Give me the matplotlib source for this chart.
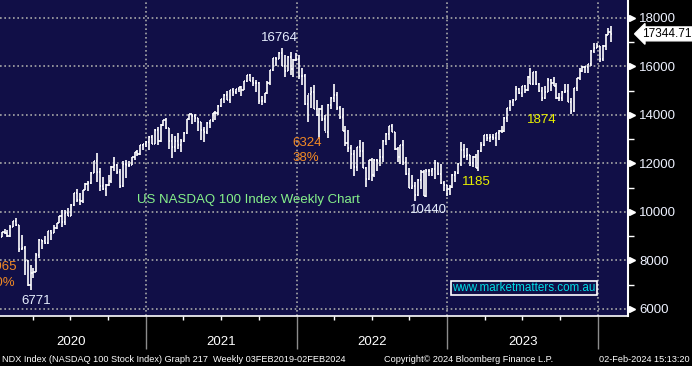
import numpy as np
import pandas as pd
import matplotlib
matplotlib.use('Agg')
import matplotlib.pyplot as plt
import matplotlib.dates as mdates
import matplotlib.transforms as mtransforms

# weekly NDX bars (week ending Fridays)
first_open = 8793

close_2020 = [8975, 9174, 9114, 8992, 9401, 9623, 9446, 8462, 8531, 7995, 7006, 7494, 7528, 8230, 8833, 8795,
              8718, 9213, 9152, 9325, 9555, 9824, 9588, 9946, 9850, 10280, 10768, 10503, 10461, 10905, 11139,
              11183, 11625, 12111, 11629, 11088, 10939, 11117, 11268, 11864, 11937, 11667, 11052, 11981, 11937,
              11938, 12258, 12465, 12375, 12756, 12804, 12888]
high_2020 = [9000, 9180, 9300, 9260, 9460, 9630, 9736, 9460, 9060, 8600, 8000, 7830, 7680, 8290, 8870, 8860,
             9030, 9220, 9260, 9460, 9560, 9850, 10090, 10070, 10150, 10320, 10770, 10960, 10800, 10910, 11210,
             11260, 11660, 12120, 12439, 11800, 11440, 11160, 11530, 11880, 12250, 11970, 11760, 12100, 12150,
             12090, 12270, 12470, 12560, 12780, 12820, 12940]
low_2020 = [8780, 8960, 9080, 8950, 8980, 9380, 9430, 8360, 8440, 7400, 6950, 6771, 7290, 7520, 8100, 8480,
            8680, 8680, 8850, 9150, 9290, 9530, 9380, 9480, 9830, 9840, 10250, 10430, 10300, 10380, 10900,
            10870, 11150, 11600, 11250, 10875, 10920, 10680, 11080, 11200, 11680, 11550, 10980, 11050, 11420,
            11850, 11920, 12150, 12290, 12350, 12550, 12700]

close_2021 = [13105, 12803, 13367, 12925, 13606, 13803, 13450, 12910, 12668, 12920, 12782, 12935, 13275, 13845,
              14041, 13951, 13860, 13720, 13380, 13298, 13687, 13774, 14069, 14090, 14360, 14640, 14843, 14637,
              15040, 14960, 15073, 15158, 15038, 15388, 15652, 15396, 15320, 15317, 14566, 14579, 14897, 15338,
              15850, 16345, 16309, 16573, 16025, 15812, 16410, 15900, 16287, 16320]
high_2021 = [13140, 13160, 13440, 13500, 13620, 13810, 13880, 13470, 13220, 13150, 13260, 13010, 13300, 13850,
             14060, 14060, 14060, 13870, 13720, 13500, 13710, 13780, 14080, 14180, 14400, 14650, 14850, 15000,
             15050, 15100, 15090, 15170, 15180, 15400, 15660, 15700, 15560, 15450, 15340, 14780, 14900, 15400,
             15860, 16350, 16410, 16600, 16764, 16470, 16420, 16600, 16310, 16560]
low_2021 = [12550, 12800, 12790, 12780, 12900, 13560, 13420, 12600, 12210, 12470, 12600, 12490, 12900, 13220,
            13780, 13620, 13700, 13320, 12980, 12900, 13230, 13480, 13700, 13800, 14010, 14350, 14500, 14630,
            14500, 14800, 14880, 14950, 14770, 15020, 15370, 15390, 15200, 14940, 14450, 14400, 14500, 14880,
            15220, 15800, 16000, 16290, 16020, 15570, 15810, 15660, 15560, 16210]

close_2022 = [15594, 15611, 14438, 14880, 14934, 14253, 14001, 14254, 13838, 13302, 14421, 14710, 14838, 14283,
              13897, 13357, 12855, 12645, 12387, 11835, 12681, 12526, 11830, 11342, 12141, 11544, 12125, 12091,
              12266, 12947, 13207, 13530, 13292, 12600, 12272, 12750, 12044, 11552, 10972, 11074, 10690, 11314,
              11668, 10677, 11700, 11680, 11758, 12030, 11550, 11187, 11100, 10940]
high_2022 = [16470, 15950, 15670, 14810, 15140, 15250, 14600, 14280, 14420, 14010, 14450, 14760, 15260, 14950,
             14380, 14290, 13550, 13400, 12770, 12560, 12690, 12950, 12880, 11840, 12160, 12230, 12180, 12190,
             12580, 12970, 13240, 13550, 13620, 13300, 12700, 12760, 12950, 12250, 11810, 11540, 11250, 11340,
             11720, 11720, 11760, 11760, 11820, 12130, 12040, 11970, 11280, 11110]
low_2022 = [15500, 15250, 14430, 13725, 14270, 14230, 13950, 13020, 13740, 13320, 13050, 14250, 14520, 14190,
            13850, 13340, 12720, 12460, 11770, 11490, 11670, 12250, 11820, 11035, 11300, 11280, 11450, 11700,
            11900, 12050, 12750, 12950, 13280, 12560, 12060, 11980, 11950, 11530, 10970, 10960, 10440, 10640,
            10960, 10670, 10610, 11500, 11480, 11340, 11540, 11160, 10870, 10670]

close_2023 = [11040, 11541, 11619, 11960, 12573, 12304, 12359, 12012, 12269, 11830, 12520, 12767, 13181, 13062,
              13079, 13037, 13246, 13340, 13340, 13873, 14298, 14547, 14620, 15084, 14891, 15179, 15040, 15565,
              15275, 15757, 15275, 14975, 14695, 14942, 15449, 15305, 15203, 14702, 14715, 14942, 14995, 14542,
              14180, 15099, 15529, 15804, 15983, 15997, 16085, 16623, 16777, 16826]
high_2023 = [11120, 11560, 11680, 12000, 12880, 12800, 12640, 12370, 12290, 12380, 12540, 12900, 13190, 13200,
             13210, 13200, 13250, 13400, 13540, 13900, 14300, 14620, 14680, 15180, 15100, 15190, 15250, 15600,
             15932, 15790, 15830, 15330, 15140, 15200, 15530, 15480, 15570, 15310, 14900, 15000, 15280, 15270,
             14700, 15130, 15540, 15930, 16000, 16040, 16110, 16700, 16970, 16970]
low_2023 = [10700, 10970, 11230, 11550, 11900, 12240, 12150, 11900, 11860, 11830, 11695, 12480, 12730, 12910,
            12900, 12960, 12720, 12960, 13250, 13290, 13720, 14150, 14380, 14600, 14860, 14730, 14890, 15000,
            15270, 15250, 15220, 14960, 14560, 14680, 14930, 15000, 15190, 14680, 14570, 14590, 14900, 14540,
            14058, 14110, 14970, 15460, 15780, 15720, 15740, 16000, 16560, 16760]

close_2024 = [16305, 16832, 17314, 17421, 17344.71]
high_2024 = [16830, 16900, 17330, 17600, 17680]
low_2024 = [16170, 16220, 16690, 17310, 17030]

close = np.array(close_2020 + close_2021 + close_2022 + close_2023 + close_2024)
high = np.array(high_2020 + high_2021 + high_2022 + high_2023 + high_2024)
low = np.array(low_2020 + low_2021 + low_2022 + low_2023 + low_2024)
opens = np.r_[first_open, close[:-1]]
dates = pd.date_range('2020-01-10', periods=len(close), freq='W-FRI')
x = mdates.date2num(dates)

year_labels = ['2020', '2021', '2022', '2023']
price_ticks = [6000, 8000, 10000, 12000, 14000, 16000, 18000]

navy = '#110f47'
fig = plt.figure(figsize=(6.92, 3.66), dpi=100, facecolor='black')
ax = fig.add_axes([0, 50/366, 628/692, 316/366])
ax.set_facecolor(navy)

x0 = mdates.date2num(pd.Timestamp('2020-01-13'))
ax.set_xlim(x0, x0 + 628 * 2.4226)
ax.set_ylim(5711, 18742)

# OHLC bars
ax.vlines(x, low, high, color='white', lw=1.2, zorder=3)
ax.hlines(opens, x - 2.6, x, color='white', lw=1.2, zorder=3)
ax.hlines(close, x, x + 2.6, color='white', lw=1.2, zorder=3)

# axes / grid
ax.xaxis.set_major_locator(mdates.YearLocator())
ax.xaxis.set_minor_locator(mdates.MonthLocator(bymonth=[4, 7, 10]))
ax.tick_params(axis='x', which='major', length=24, color='#8c8c8c', width=1, labelbottom=False)
ax.tick_params(axis='x', which='minor', length=3, color='white', width=1)
ax.yaxis.tick_right()
ax.set_yticks(price_ticks)
ax.set_yticks([7000, 9000, 11000, 13000, 15000, 17000], minor=True)
ax.tick_params(axis='y', which='major', length=0, pad=8, labelcolor='#eef2ff', labelsize=9.5)
ax.tick_params(axis='y', which='minor', length=4, color='white', width=1)
for lab in ax.get_yticklabels():
    lab.set_family('Liberation Sans')
ax.grid(True, which='major', color='#a8a8a8', ls=(0, (1, 1.6)), lw=1.2)
ax.set_axisbelow(True)
for s in ['top', 'left']:
    ax.spines[s].set_visible(False)
ax.spines['right'].set_color('white')
ax.spines['right'].set_linewidth(1.5)
ax.spines['bottom'].set_color('white')
ax.spines['bottom'].set_linewidth(1.2)

trans = mtransforms.blended_transform_factory(ax.transAxes, ax.transData)
ax.plot([1.006] * len(price_ticks), price_ticks, ls='none', marker='>', ms=5, color='white',
        transform=trans, clip_on=False, zorder=5)

# year labels under the axis
ytr = mtransforms.blended_transform_factory(ax.transData, ax.transAxes)
for yl in year_labels:
    ax.text(mdates.date2num(pd.Timestamp(yl + '-07-02')), -0.082, yl, transform=ytr, ha='center',
            va='center', color='white', fontsize=9.5, family='Liberation Sans')

# annotations
f = 'Liberation Sans'
white_txt = '#e8f0ff'
orange = '#f28a24'
yellow = '#e8f000'
ax.text(0.4443, 0.8797, '16764', transform=ax.transAxes, ha='center', va='center', color=white_txt, fontsize=9.5, family=f)
ax.text(0.465, 0.5475, '6324', transform=ax.transAxes, ha='left', va='center', color=orange, fontsize=9.5, family=f)
ax.text(0.465, 0.50, '38%', transform=ax.transAxes, ha='left', va='center', color=orange, fontsize=9.5, family=f)
ax.text(0.0581, 0.0475, '6771', transform=ax.transAxes, ha='center', va='center', color=white_txt, fontsize=9.5, family=f)
ax.text(0.0271, 0.155, '2965', transform=ax.transAxes, ha='right', va='center', color=orange, fontsize=9.5, family=f)
ax.text(0.0239, 0.1044, '30%', transform=ax.transAxes, ha='right', va='center', color=orange, fontsize=9.5, family=f)
ax.text(0.6815, 0.3354, '10440', transform=ax.transAxes, ha='center', va='center', color=white_txt, fontsize=9.5, family=f)
ax.text(0.758, 0.4241, '1185', transform=ax.transAxes, ha='center', va='center', color=yellow, fontsize=9.5, family=f)
ax.text(0.8631, 0.6203, '1874', transform=ax.transAxes, ha='center', va='center', color=yellow, fontsize=9.5, family=f)
ax.text(0.2182, 0.3671, 'US NASDAQ 100 Index Weekly Chart', transform=ax.transAxes, ha='left', va='center',
        color='#86f08a', fontsize=9.5, family=f)
ax.text(0.8344, 0.0886, 'www.marketmatters.com.au', transform=ax.transAxes, ha='center', va='center',
        color='#00dce4', fontsize=8.4, family=f,
        bbox=dict(boxstyle='square,pad=0.12', fc=navy, ec='white', lw=1.2))

# last price tag
ax.text(1.022, 17344.71, '17344.71', transform=trans, ha='left', va='center', color='black', fontsize=8.5,
        family=f, clip_on=False,
        bbox=dict(boxstyle='larrow,pad=0.08', fc='white', ec='white'))

# footer
fig.text(2/692, 0.019, 'NDX Index (NASDAQ 100 Stock Index) Graph 217  Weekly 03FEB2019-02FEB2024',
         color='white', fontsize=6.6, family=f, ha='left', va='center')
fig.text(384/692, 0.019, 'Copyright\u00a9 2024 Bloomberg Finance L.P.', color='white', fontsize=6.6,
         family=f, ha='left', va='center')
fig.text(690/692, 0.019, '02-Feb-2024 15:13:20', color='white', fontsize=6.6, family=f, ha='right',
         va='center')

fig.savefig('out.png', dpi=100, facecolor='black')
